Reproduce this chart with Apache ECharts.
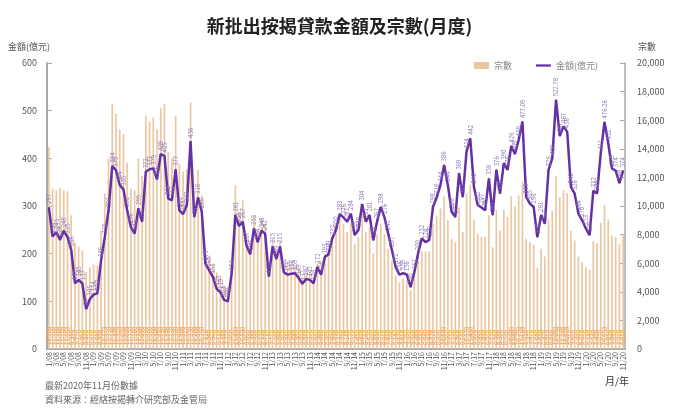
<!DOCTYPE html>
<html lang="zh-Hant">
<head>
    <meta charset="UTF-8">
    <title>新批出按揭貸款金額及宗數(月度)</title>
    <style>
        html, body { margin: 0; padding: 0; background: #fff; }
        #app { width: 679px; height: 414px; }
    </style>
</head>
<body>
    <div id="app"></div>
</body>
<script src="https://cdn.jsdelivr.net/npm/echarts@6/dist/echarts.min.js"></script>
<script>
    // 月份 1/08 ... 11/20
    var months = [];
    for (var y = 8; y <= 20; y++) {
        for (var m = 1; m <= 12; m++) {
            if (y === 20 && m > 11) break;
            months.push(m + '/' + (y < 10 ? '0' + y : y));
        }
    }

    // 金額(億元)
    var amount = [
        297, 236, 245, 229, 248, 235, 208, 138, 145, 137, 84, 105,
        114, 117, 186, 235, 291, 384, 375, 344, 335, 291, 256, 242,
        295, 267, 372, 377, 379, 356, 409, 405, 316, 312, 377, 291,
        283, 302, 436, 277, 318, 288, 179, 165, 151, 126, 119, 103,
        100, 158, 281, 258, 267, 217, 199, 253, 224, 248, 242, 152,
        215, 189, 215, 161, 156, 158, 159, 149, 137, 147, 145, 138,
        172, 156, 193, 199, 232, 250, 283, 276, 267, 284, 239, 249,
        304, 267, 281, 228, 267, 298, 276, 242, 207, 172, 156, 159,
        156, 130, 161, 200, 232, 224, 229, 298, 318, 344, 386, 344,
        288, 277, 369, 319, 414, 442, 340, 302, 297, 291, 358, 281,
        376, 326, 390, 376, 426, 409, 439, 477.09, 319, 305, 298, 235,
        281, 263, 376, 400, 522.78, 447, 467, 456, 340, 326, 284, 270,
        253, 239, 332, 326, 411, 476.26, 432, 379, 374, 348, 374
    ];

    // 宗數
    var cases = [
        14100, 11200, 11100, 11260, 11100, 11050, 9350, 7470, 7170, 6890, 5370, 5720,
        5910, 5840, 8300, 10870, 13330, 17140, 16440, 15360, 15030, 13020, 11220, 11100,
        13330, 12090, 16300, 15900, 16200, 15360, 16840, 17140, 13790, 13330, 16300, 12930,
        12390, 12560, 17230, 10200, 12550, 10750, 7120, 6540, 5960, 5370, 5140, 4440,
        4320, 5960, 11450, 9580, 10400, 8060, 7360, 9350, 8300, 9120, 8770, 5140,
        7710, 6890, 7590, 5960, 5840, 5960, 5840, 5490, 5020, 5370, 5370, 5020,
        5960, 5490, 6660, 6890, 7830, 8770, 9470, 8770, 8180, 8770, 7360, 7830,
        9470, 8180, 8530, 6660, 8010, 8770, 8060, 7010, 6190, 5140, 4670, 4910,
        4790, 4090, 5300, 6660, 6840, 6840, 6840, 8770, 9350, 9820, 10680, 9000,
        7710, 7470, 9890, 8180, 10870, 11450, 9000, 8060, 7830, 7830, 9350, 7120,
        9700, 8300, 9750, 9230, 10680, 9980, 10750, 11690, 7710, 7470, 7310, 5680,
        7010, 6470, 9050, 9650, 12090, 10630, 11100, 10910, 8250, 7590, 6470, 6070,
        5720, 5540, 7540, 7400, 8810, 10050, 9050, 7940, 7830, 7310, 8010
    ];

    var cjk = '"Noto Sans CJK TC", "Noto Sans", sans-serif';
    var purple = '#6530a3';

    var chart = echarts.init(document.getElementById('app'));
    var option = {
        animation: false,
        textStyle: { fontFamily: cjk },
        title: {
            text: '新批出按揭貸款金額及宗數(月度)',
            left: 'center',
            top: 12,
            textStyle: { fontSize: 18, fontWeight: 'bold', color: '#222', fontFamily: cjk }
        },
        legend: {
            right: 76,
            top: 56,
            itemWidth: 15,
            itemHeight: 7,
            itemGap: 24,
            textStyle: { fontSize: 9, color: '#888' },
            data: [
                { name: '宗數', icon: 'rect' },
                { name: '金額(億元)', icon: 'path://M0,0 L20,0 L20,3 L0,3 Z' }
            ]
        },
        grid: { left: 47, right: 54, top: 63, bottom: 65 },
        xAxis: [{
            type: 'category',
            data: months,
            axisLine: { lineStyle: { color: '#aaa', width: 2 } },
            axisTick: { show: false },
            axisLabel: {
                interval: 1,
                rotate: 90,
                fontSize: 7,
                color: '#555',
                margin: 3
            },
            splitLine: { show: false }
        }],
        yAxis: [{
            type: 'value',
            name: '金額(億元)',
            nameLocation: 'end',
            nameGap: 12,
            nameTextStyle: { fontSize: 9, color: '#555', align: 'center', padding: [0, 0, 0, -36] },
            min: 0,
            max: 600,
            interval: 100,
            axisLine: { show: true, lineStyle: { color: '#aaa', width: 2 } },
            axisTick: { show: true, inside: true, length: 5, lineStyle: { color: '#aaa' } },
            axisLabel: { fontSize: 9, color: '#555', margin: 10 },
            splitLine: { show: false }
        }, {
            type: 'value',
            name: '宗數',
            nameLocation: 'end',
            nameGap: 12,
            nameTextStyle: { fontSize: 9, color: '#555', padding: [0, 0, 0, 44] },
            min: 0,
            max: 20000,
            interval: 2000,
            axisLine: { show: true, lineStyle: { color: '#aaa', width: 1.5 } },
            axisTick: { show: true, inside: true, length: 5, lineStyle: { color: '#aaa' } },
            axisLabel: {
                fontSize: 9,
                color: '#555',
                margin: 12,
                formatter: function (v) { return v.toLocaleString('en-US'); }
            },
            splitLine: { show: false }
        }],
        series: [{
            name: '宗數',
            type: 'bar',
            yAxisIndex: 1,
            data: cases,
            barWidth: '45%',
            itemStyle: { color: '#ebc6a0' },
            label: {
                show: true,
                position: 'insideBottom',
                rotate: 90,
                align: 'left',
                verticalAlign: 'middle',
                distance: 4,
                fontSize: 6,
                color: '#f0a050',
                formatter: function (p) { return p.value.toLocaleString('en-US'); }
            }
        }, {
            name: '金額(億元)',
            type: 'line',
            yAxisIndex: 0,
            data: amount,
            symbol: 'circle',
            symbolSize: 1,
            showSymbol: true,
            showAllSymbol: true,
            lineStyle: { color: purple, width: 2.5 },
            itemStyle: { color: purple },
            label: {
                show: true,
                position: 'top',
                rotate: 90,
                align: 'left',
                verticalAlign: 'middle',
                distance: 3,
                fontSize: 6,
                color: '#8a74b8'
            }
        }],
        graphic: [{
            type: 'text',
            left: 605,
            top: 376,
            style: { text: '月/年', fontSize: 10, fill: '#333', fontFamily: cjk }
        }, {
            type: 'text',
            left: 45,
            top: 381,
            style: { text: '最新2020年11月份數據', fontSize: 9, fill: '#666', fontFamily: cjk }
        }, {
            type: 'text',
            left: 45,
            top: 395,
            style: { text: '資料來源：經絡按揭轉介研究部及金管局', fontSize: 9, fill: '#666', fontFamily: cjk }
        }]
    };
    chart.setOption(option);
</script>
</html>
